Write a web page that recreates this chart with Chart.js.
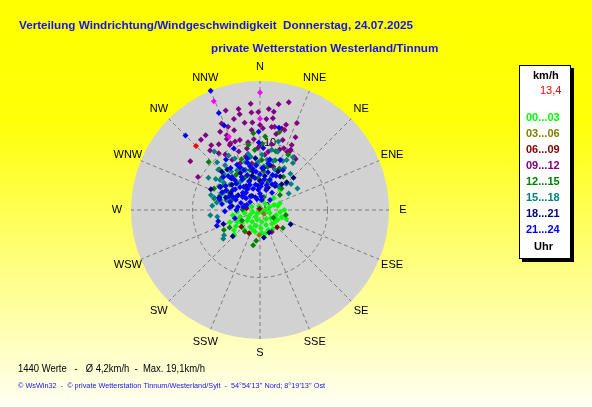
<!DOCTYPE html>
<html>
<head>
<meta charset="utf-8">
<script src="https://cdn.jsdelivr.net/npm/chart.js@4.4.1/dist/chart.umd.min.js"></script>
<style>
html,body{margin:0;padding:0;background:#ffff80;}
canvas{display:block;}
</style>
</head>
<body>
<canvas id="c" width="592" height="407"></canvas>
<script>
// ---- data: [direction in degrees, speed in km/h] ----
const titleLine1 = "Verteilung Windrichtung/Windgeschwindigkeit  Donnerstag, 24.07.2025";
const titleLine2 = "private Wetterstation Westerland/Tinnum";
const footerLine1 = "1440 Werte   -   \u00d8 4,2km/h  -  Max. 19,1km/h";
const footerLine2 = "\u00a9 WsWin32  -  \u00a9 private Wetterstation Tinnum/Westerland/Sylt  -  54\u00b054'13'' Nord; 8\u00b019'13'' Ost";
const directions = ["N","NNE","NE","ENE","E","ESE","SE","SSE","S","SSW","SW","WSW","W","WNW","NW","NNW"];
const maxSpeed = 19.1;
const ringValues = [10];
const ringLabels = ["0","10"];
const legendUnit = "km/h";
const currentLabel = "13,4";
const hourLabels = ["00...03","03...06","06...09","09...12","12...15","15...18","18...21","21...24"];
const hourColors = ["#00FF00","#808000","#800000","#800080","#008000","#008080","#000080","#0000FF"];

const h0003 = [[259,4.1],[265,3.4],[251,3.1],[259,2.3],[243,1.7],[254,1.1],[217,0.7],[117,0.3],[90,0.9],[73,1.5],[70,2.2],[77,2.7],[96,3.0],[107,2.5],[126,2.0],[146,1.6],[171,1.8],[197,1.5],[214,2.1],[230,2.5],[234,3.3],[242,3.8],[210,2.9],[194,2.4],[177,2.7],[158,2.4],[139,2.7],[119,3.0],[108,3.4],[232,4.9],[236,4.3],[193,3.3],[175,3.4],[168,3.6],[220,3.7],[146,3.4],[346,0.6],[291,1.3],[282,2.1],[90,3.6],[71,3.1],[45,4.2],[49,2.7],[248,4.8],[226,5.3],[199,3.1],[158,3.2],[109,4.1],[40,1.2],[210,1.2],[107,1.5],[236,2.1],[129,2.8]];
const h0306 = [[182,3.7],[135,0.8]];
const h0609 = [[228,3.7],[205,3.8],[135,3.6],[277,2.0],[340,0.2]];
const h0912 = [[355,15.8],[10,15.9],[15,16.5],[341,15.6],[348,15.3],[348,14.5],[355,14.5],[359,14.5],[5,15.0],[8,13.7],[344,14.0],[336,14.0],[339,13.2],[350,13.1],[355,13.0],[10,12.5],[15,12.5],[17,13.2],[23,14.0],[342,12.4],[354,11.9],[2,12.1],[8,12.4],[324,13.7],[320,13.6],[336,12.1],[335,11.6],[12,11.5],[17,12.4],[26,12.0],[344,10.8],[350,10.2],[18,10.9],[323,12.0],[328,11.5],[336,10.8],[305,12.6],[324,10.4],[328,9.7],[340,9.2],[348,9.3],[21,9.8],[25,9.5],[35,9.2],[298,10.4],[320,11.5],[27,9.8],[33,9.3],[331,8.5],[340,10.8],[27,10.0],[0,12.6],[4,13.5],[8,14.7],[337,7.5],[340,6.3],[0,4.4],[17,3.4],[17,6.7],[18,9.4],[152,3.7],[335,10.6],[333,13.0],[358,9.2],[8,8.7],[26,10.7],[350,7.0],[5,8.2],[345,8.2],[10,9.9],[355,10.5],[0,9.6]];
const h1215 = [[355,11.4],[4,10.9],[14,11.9],[313,10.4],[27,9.2],[284,7.0],[241,6.1],[240,5.2],[215,3.9],[128,4.3],[101,3.9],[187,4.6],[191,5.3],[272,2.6],[120,2.3],[240,3.1],[355,8.9],[2,7.4],[346,6.1],[17,7.7],[16,4.3],[326,6.3],[326,3.9],[356,4.7],[53,3.7],[310,7.4],[290,4.4],[17,2.0],[348,7.9],[284,6.1],[335,5.3],[345,5.0],[5,5.8],[10,6.5],[355,6.8],[320,5.2],[300,5.6],[25,6.8],[340,8.0],[15,9.0],[2,9.8],[350,9.8],[295,7.5],[305,6.5],[315,8.5],[35,6.0],[45,4.5]];
const h1518 = [[322,11.0],[17,9.0],[32,9.2],[302,9.0],[314,8.6],[287,7.6],[275,7.1],[264,7.4],[15,10.5],[28,8.4],[60,6.4],[60,4.9],[38,4.4],[235,6.5],[8,7.5],[307,7.4],[261,6.4],[322,8.4],[334,8.5],[343,7.4],[2,8.2],[11,9.1],[30,7.2],[307,6.7],[298,5.0],[19,5.3],[358,7.1],[325,5.1],[286,5.2],[348,8.5],[323,7.1],[232,6.9],[315,7.6],[300,7.0],[290,6.3],[330,6.8],[340,6.3],[5,6.5],[15,7.5],[25,8.0],[45,5.5],[280,6.5],[310,5.8],[20,6.4],[350,8.0],[330,9.3],[295,6.0],[305,8.0],[285,7.0],[318,9.5],[40,7.0],[50,6.0],[35,8.5]];
const h1821 = [[46,6.9],[44,5.7],[31,5.8],[293,7.9],[249,5.8],[226,5.6],[158,3.6],[172,4.1],[115,5.0],[355,7.7],[332,6.2],[347,5.2],[8,5.1],[312,5.6],[330,4.1],[355,3.6],[32,4.2],[304,3.9],[330,2.4],[321,7.7],[13,6.8],[287,6.3],[284,2.4],[300,5.0],[318,6.3],[340,4.6],[350,5.8],[5,6.2],[20,3.5],[310,3.3],[290,5.4],[335,7.0],[0,4.3],[25,6.3],[278,4.2],[300,6.8],[315,8.0],[40,5.0]];
const h2124 = [[337.5,19.1],[337,15.6],[315,15.6],[337,13.6],[13,12.5],[359,11.6],[359,10.0],[337,9.9],[22,8.0],[325,7.6],[333,7.5],[338,6.4],[347,6.7],[354,5.7],[3,6.2],[12,5.7],[317,6.9],[320,5.8],[331,5.6],[339,4.5],[351,4.8],[4,4.0],[18,4.7],[25,5.6],[305,6.2],[307,5.0],[319,4.5],[321,3.3],[342,3.3],[0,2.4],[17,3.1],[35,3.1],[293,5.0],[293,3.9],[307,3.2],[309,1.9],[345,1.7],[279,5.7],[278,3.3],[291,2.1],[295,6.2],[45,2.1],[30,6.8],[250,6.8],[255,6.4],[252,3.9],[3,9.2],[326,9.0],[346,7.9],[11,7.6],[300,4.0],[310,4.8],[315,3.6],[325,4.2],[330,5.2],[340,5.5],[350,6.2],[0,5.3],[8,4.6],[15,3.8],[25,4.2],[300,5.8],[285,4.6],[275,4.5],[268,5.2],[290,3.0],[310,2.7],[330,3.6],[355,3.0],[5,2.0],[320,6.4],[335,7.0],[345,7.3],[355,6.6],[10,7.0],[300,6.8],[312,7.3],[285,6.2],[270,3.5],[280,2.5],[325,2.5],[340,2.0],[20,5.5],[30,4.5],[296,4.5],[318,5.3],[338,4.0],[350,3.8],[2,3.5],[10,1.5]];
const extraMagenta = [[0,17.4],[337,17.5],[0,13.5],[337,11.8]];
const currentValue = [[315,13.4]];

// ---- build datasets ----
function toXY(arr){
  return arr.map(p => {
    const a = p[0] * Math.PI / 180;
    return {x: p[1] * Math.sin(a), y: p[1] * Math.cos(a)};
  });
}
const hourSeries = [h0003,h0306,h0609,h0912,h1215,h1518,h1821,h2124];
const datasets = [];
// top-most first (Chart.js draws lower index on top)
datasets.push({label: currentLabel, data: toXY(currentValue), backgroundColor: "#FF0000"});
datasets.push({label: "extra", data: toXY(extraMagenta), backgroundColor: "#FF00FF"});
for (let i = hourSeries.length - 1; i >= 0; i--) {
  datasets.push({label: hourLabels[i], data: toXY(hourSeries[i]), backgroundColor: hourColors[i]});
}
datasets.forEach(d => { d.pointStyle = 'rectRot'; d.pointRadius = 3; d.borderWidth = 0; d.borderColor = d.backgroundColor; });

const rosePlugin = {
  id: 'rose',
  beforeDraw(chart) {
    const {ctx, width, height} = chart;
    ctx.save();
    const g = ctx.createLinearGradient(0, 0, 0, height);
    g.addColorStop(0, '#FFFF00');
    g.addColorStop(0.3, '#FFFF08');
    g.addColorStop(1, '#FFFFF4');
    ctx.fillStyle = g;
    ctx.fillRect(0, 0, width, height);

    const xs = chart.scales.x, ys = chart.scales.y;
    const cx = xs.getPixelForValue(0), cy = ys.getPixelForValue(0);
    const R = xs.getPixelForValue(maxSpeed) - cx;
    // disc
    ctx.beginPath();
    ctx.arc(cx, cy, R, 0, Math.PI * 2);
    ctx.fillStyle = '#D2D2D2';
    ctx.fill();
    // grid
    ctx.strokeStyle = '#7E7E7E';
    ctx.lineWidth = 1;
    ctx.setLineDash([4, 3]);
    ringValues.forEach(v => {
      const r = xs.getPixelForValue(v) - cx;
      ctx.beginPath(); ctx.arc(cx, cy, r, 0, Math.PI * 2); ctx.stroke();
    });
    directions.forEach((d, i) => {
      const a = i * 22.5 * Math.PI / 180;
      ctx.beginPath();
      ctx.moveTo(cx, cy);
      ctx.lineTo(cx + R * Math.sin(a), cy - R * Math.cos(a));
      ctx.stroke();
    });
    ctx.setLineDash([]);
    // direction labels
    ctx.fillStyle = '#000';
    ctx.font = '11px "Liberation Sans", Arial, sans-serif';
    ctx.textAlign = 'center';
    ctx.textBaseline = 'middle';
    directions.forEach((d, i) => {
      const a = i * 22.5 * Math.PI / 180;
      const rr = R + 14;
      ctx.fillText(d, cx + rr * Math.sin(a), cy - rr * Math.cos(a));
    });
    // ring labels
    ctx.textAlign = 'left';
    ctx.fillText(ringLabels[0], cx + 4, cy - 3);
    ctx.fillText(ringLabels[1], cx + 4, ys.getPixelForValue(ringValues[0]) + 1);
    ctx.restore();
  },
  afterDraw(chart) {
    const {ctx} = chart;
    ctx.save();
    ctx.textBaseline = 'middle';
    ctx.textAlign = 'left';
    // titles
    ctx.fillStyle = '#1414EE';
    ctx.font = 'bold 11.7px "Liberation Sans", Arial, sans-serif';
    ctx.fillText(titleLine1, 19, 26);
    ctx.fillText(titleLine2, 211, 49);
    // legend box
    ctx.fillStyle = '#000';
    ctx.fillRect(522, 68, 52, 194);
    ctx.fillStyle = '#FFF';
    ctx.fillRect(519, 65, 52, 194);
    ctx.strokeStyle = '#000';
    ctx.lineWidth = 1;
    ctx.strokeRect(519.5, 65.5, 51, 193);
    ctx.font = 'bold 11px "Liberation Sans", Arial, sans-serif';
    ctx.fillStyle = '#000';
    ctx.fillText(legendUnit, 533, 76);
    ctx.font = '11px "Liberation Sans", Arial, sans-serif';
    ctx.fillStyle = '#FF0000';
    ctx.fillText(currentLabel, 540, 91);
    ctx.font = 'bold 11px "Liberation Sans", Arial, sans-serif';
    hourLabels.forEach((l, i) => {
      ctx.fillStyle = hourColors[i];
      ctx.fillText(l, 526, 118 + i * 16);
    });
    ctx.fillStyle = '#000';
    ctx.fillText("Uhr", 534, 247);
    // footer
    ctx.save();
    ctx.translate(18, 369);
    ctx.scale(0.86, 1);
    ctx.fillStyle = '#000';
    ctx.font = '11px "Liberation Sans", Arial, sans-serif';
    ctx.fillText(footerLine1, 0, 0);
    ctx.restore();
    ctx.fillStyle = '#1414EE';
    ctx.font = '7.3px "Liberation Sans", Arial, sans-serif';
    ctx.fillText(footerLine2, 18, 386);
    ctx.restore();
  }
};

new Chart(document.getElementById('c'), {
  type: 'scatter',
  data: {datasets},
  options: {
    responsive: false,
    animation: false,
    devicePixelRatio: 1,
    layout: {padding: {left: 131, right: 203, top: 81, bottom: 68}},
    scales: {
      x: {display: false, min: -maxSpeed, max: maxSpeed},
      y: {display: false, min: -maxSpeed, max: maxSpeed}
    },
    plugins: {legend: {display: false}, tooltip: {enabled: false}, title: {display: false}}
  },
  plugins: [rosePlugin]
});
</script>
</body>
</html>
